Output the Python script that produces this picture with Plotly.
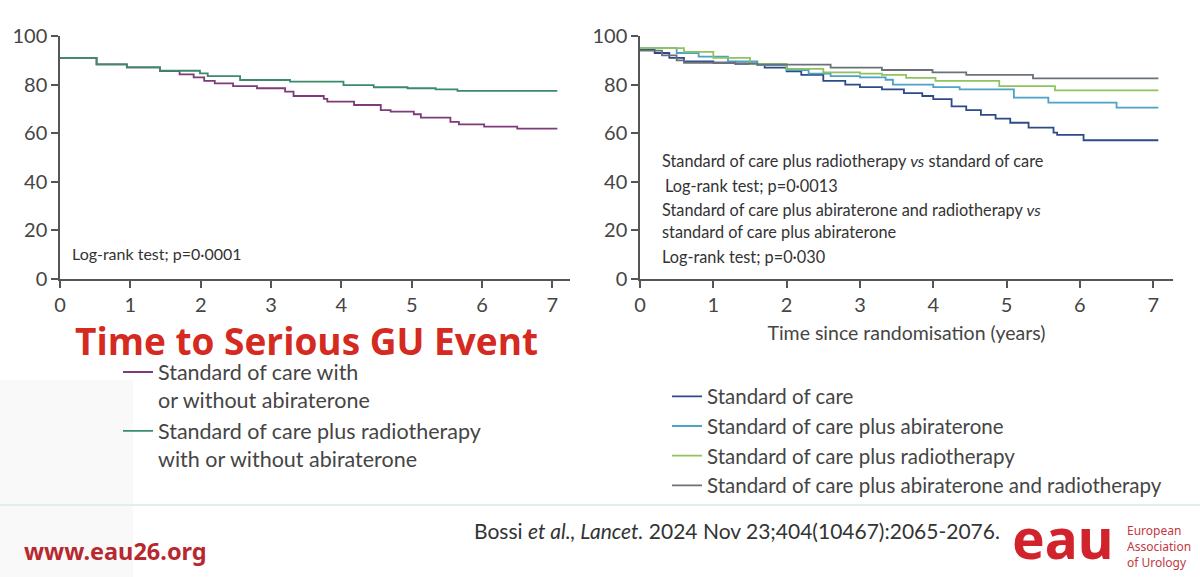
import plotly.graph_objects as go

# ---------------- data ----------------
# Left panel: Time to serious GU event (%), two pooled groups
left_t_soc = [0, 0.52, 0.95, 1.42, 1.7, 1.9, 2.05, 2.2, 2.46, 2.8, 3.2, 3.32, 3.75, 3.8, 4.18, 4.56, 4.7, 5.03, 5.13, 5.55, 5.67, 6.03, 6.5, 7.07]
left_v_soc = [91, 88.3, 87.1, 85.6, 84.2, 83.0, 81.5, 80.5, 79.4, 78.5, 77.1, 75.3, 74.1, 73.0, 71.6, 69.5, 68.9, 67.8, 66.4, 64.7, 63.6, 62.7, 61.9, 61.9]
left_t_rt = [0, 0.52, 0.95, 1.42, 1.99, 2.1, 2.56, 3.27, 4.03, 4.46, 4.94, 5.34, 5.65, 7.07]
left_v_rt = [91, 88.3, 87.1, 85.7, 84.6, 83.5, 81.9, 81.2, 79.8, 78.9, 78.5, 78.0, 77.4, 77.4]

# Right panel: four arms
r_t_soc = [0, 0.2, 0.4, 0.6, 1.0, 1.3, 1.7, 2.0, 2.2, 2.5, 2.8, 3.0, 3.3, 3.6, 3.85, 4.0, 4.25, 4.45, 4.65, 4.85, 5.05, 5.3, 5.64, 5.69, 6.05, 7.07]
r_v_soc = [94.5, 93, 91, 89.5, 89, 88.5, 87, 85.5, 84, 81.5, 80, 79, 78, 76.5, 75.3, 74, 71, 69.5, 67.5, 66, 64.3, 62.3, 60.2, 59.3, 57.1, 57.1]
r_t_abi = [0, 0.5, 0.8, 1.2, 1.6, 2.0, 2.3, 2.6, 3.0, 3.35, 3.45, 4.0, 4.36, 5.1, 5.57, 6.5, 7.07]
r_v_abi = [95, 93, 91.5, 89.5, 88, 86, 84.5, 83.5, 83, 82, 80, 79, 78, 74.6, 72.6, 70.5, 70.5]
r_t_rt = [0, 0.6, 1.0, 1.5, 2.0, 2.5, 3.0, 3.3, 3.63, 4.03, 4.9, 5.66, 7.07]
r_v_rt = [95, 93.5, 91, 88.5, 86.5, 85, 84.5, 84, 82.8, 81.5, 79.4, 77.6, 77.6]
r_t_abirt = [0, 0.3, 0.5, 0.6, 1.3, 1.6, 2.6, 3.3, 3.99, 4.45, 5.36, 7.07]
r_v_abirt = [94, 92, 90, 89, 88.7, 88.2, 87, 86, 85, 84, 82.6, 82.6]

left_names = ["Standard of care with<br>or without abiraterone",
              "Standard of care plus radiotherapy<br>with or without abiraterone"]
right_names = ["Standard of care", "Standard of care plus abiraterone",
               "Standard of care plus radiotherapy",
               "Standard of care plus abiraterone and radiotherapy"]
x_ticks = [0, 1, 2, 3, 4, 5, 6, 7]
y_ticks = [0, 20, 40, 60, 80, 100]

# ---------------- style ----------------
FONT = "Lato, 'Noto Sans', sans-serif"
C_PURPLE = "#7e3a79"
C_DGREEN = "#3b8a6b"
C_DBLUE = "#2d4b88"
C_LBLUE = "#4ca2c8"
C_LGREEN = "#8fc35c"
C_GREY = "#6b7179"
AX = "#555555"
TXT = "#454545"
RED = "#d42a1f"

fig = go.Figure()

fig.add_trace(go.Scatter(x=left_t_soc, y=left_v_soc, mode="lines", line=dict(color=C_PURPLE, width=1.8, shape="hv"),
                         name=left_names[0], xaxis="x", yaxis="y", legend="legend"))
fig.add_trace(go.Scatter(x=left_t_rt, y=left_v_rt, mode="lines", line=dict(color=C_DGREEN, width=1.8, shape="hv"),
                         name=left_names[1], xaxis="x", yaxis="y", legend="legend"))

for t, v, c, n in [(r_t_soc, r_v_soc, C_DBLUE, right_names[0]),
                   (r_t_abi, r_v_abi, C_LBLUE, right_names[1]),
                   (r_t_rt, r_v_rt, C_LGREEN, right_names[2]),
                   (r_t_abirt, r_v_abirt, C_GREY, right_names[3])]:
    fig.add_trace(go.Scatter(x=t, y=v, mode="lines", line=dict(color=c, width=1.8, shape="hv"),
                             name=n, xaxis="x2", yaxis="y2", legend="legend2"))

W, H = 1200, 577
def px(v):
    return v / W
def py(v):
    return 1 - v / H

axis_common = dict(showgrid=False, zeroline=False, showline=True, linecolor=AX, linewidth=1.5,
                   ticks="outside", ticklen=7, tickwidth=1.5, tickcolor=AX,
                   tickfont=dict(family=FONT, size=20, color=TXT), fixedrange=True)

ydom = [py(279), py(36)]
fig.update_layout(
    width=W, height=H, margin=dict(l=0, r=0, t=0, b=0, autoexpand=False),
    paper_bgcolor="white", plot_bgcolor="rgba(0,0,0,0)",
    font=dict(family=FONT, color=TXT),
    xaxis=dict(domain=[px(60), px(570)], range=[0, 7.25], tickvals=x_ticks, anchor="y", **axis_common),
    yaxis=dict(domain=ydom, range=[0, 100], tickvals=y_ticks, anchor="x", **axis_common),
    xaxis2=dict(domain=[px(640), px(1173)], range=[0, 7.27], tickvals=x_ticks, anchor="y2",
                title=dict(text="Time since randomisation (years)", font=dict(family=FONT, size=19.5, color=TXT), standoff=12),
                **axis_common),
    yaxis2=dict(domain=ydom, range=[0, 100], tickvals=y_ticks, anchor="x2", **axis_common),
    legend=dict(x=px(118), y=py(351.5), xanchor="left", yanchor="top", valign="top",
                font=dict(family=FONT, size=21.5, color=TXT), bgcolor="rgba(0,0,0,0)",
                tracegroupgap=0, itemclick=False, itemdoubleclick=False),
    legend2=dict(x=px(667), y=py(376.5), xanchor="left", yanchor="top",
                 font=dict(family=FONT, size=20.5, color=TXT), bgcolor="rgba(0,0,0,0)",
                 tracegroupgap=0, itemclick=False, itemdoubleclick=False),
    showlegend=True,
)

# background decoration of the slide
fig.add_shape(type="rect", xref="paper", yref="paper", x0=0, x1=px(133), y0=0, y1=py(380),
              fillcolor="#f9f9f9", line=dict(width=0), layer="below")
fig.add_shape(type="line", xref="paper", yref="paper", x0=0, x1=1, y0=py(505), y1=py(505),
              line=dict(color="#e2eeec", width=2), layer="below")

ann = []
ann.append(dict(text="Log-rank test; p=0·0001", x=px(70), y=py(253), xref="paper", yref="paper",
                xanchor="left", yanchor="middle", showarrow=False, font=dict(family=FONT, size=16, color="#333")))
right_lines = [("Standard of care plus radiotherapy <i>vs</i> standard of care", 160, 660),
               ("Log-rank test; p=0·0013", 186, 663),
               ("Standard of care plus abiraterone and radiotherapy <i>vs</i>", 209, 660),
               ("standard of care plus abiraterone", 232, 660),
               ("Log-rank test; p=0·030", 256, 660)]
for txt, yy, xx in right_lines:
    ann.append(dict(text=txt, x=px(xx), y=py(yy), xref="paper", yref="paper", xanchor="left", yanchor="middle",
                    showarrow=False, font=dict(family=FONT, size=16.3, color="#333")))
ann.append(dict(text="<b>Time to Serious GU Event</b>", x=px(306), y=py(340), xref="paper", yref="paper",
                xanchor="center", yanchor="middle", showarrow=False, borderpad=0,
                font=dict(family="'Open Sans', sans-serif", size=37, color=RED)))
ann.append(dict(text="<b>www.eau26.org</b>", x=px(22), y=py(551), xref="paper", yref="paper",
                xanchor="left", yanchor="middle", showarrow=False,
                font=dict(family="'Noto Sans', sans-serif", size=23.5, color="#b7282f")))
ann.append(dict(text="Bossi <i>et al., Lancet.</i> 2024 Nov 23;404(10467):2065-2076.", x=px(472), y=py(530),
                xref="paper", yref="paper", xanchor="left", yanchor="middle", showarrow=False,
                font=dict(family=FONT, size=21, color="#333")))
ann.append(dict(text="<b>eau</b>", x=px(1063), y=py(537), xref="paper", yref="paper",
                xanchor="center", yanchor="middle", showarrow=False,
                font=dict(family="'Noto Sans', sans-serif", size=55, color="#d0232b")))
for i, w in enumerate(["European", "Association", "of Urology"]):
    ann.append(dict(text=w, x=px(1125), y=py(530 + 16 * i), xref="paper", yref="paper",
                    xanchor="left", yanchor="middle", showarrow=False,
                    font=dict(family="'Noto Sans', sans-serif", size=12, color="#c0393f")))
fig.update_layout(annotations=ann)

fig.write_html("out.html")
